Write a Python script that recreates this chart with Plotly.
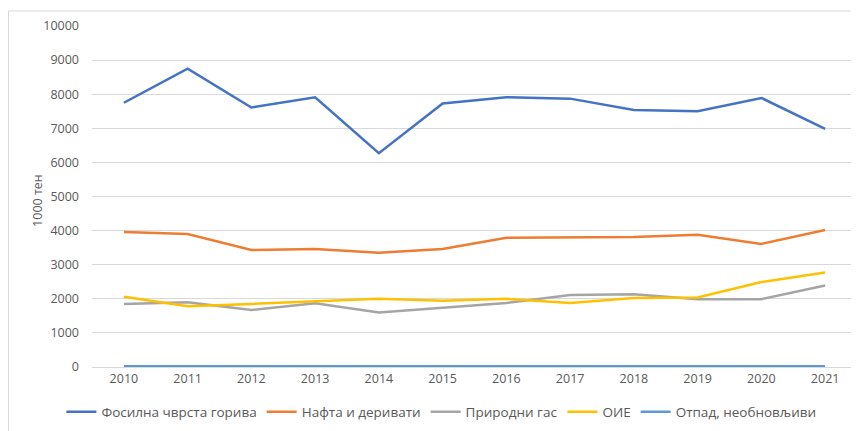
import plotly.graph_objects as go

years = [2010, 2011, 2012, 2013, 2014, 2015, 2016, 2017, 2018, 2019, 2020, 2021]

fosilna = [7750, 8750, 7610, 7910, 6270, 7730, 7910, 7870, 7540, 7500, 7890, 6980]
nafta = [3960, 3900, 3430, 3460, 3350, 3460, 3790, 3790, 3810, 3880, 3610, 4020]
gas = [1850, 1900, 1670, 1870, 1600, 1740, 1880, 2110, 2130, 1990, 1990, 2390]
oie = [2060, 1780, 1850, 1930, 2000, 1940, 2000, 1880, 2020, 2040, 2490, 2770]
otpad = [20, 20, 10, 10, 20, 20, 20, 20, 20, 20, 20, 20]

series = [
    ("Фосилна чврста горива", fosilna, "#4472C4"),
    ("Нафта и деривати", nafta, "#ED7D31"),
    ("Природни гас", gas, "#A5A5A5"),
    ("ОИЕ", oie, "#FFC000"),
    ("Отпад, необновљиви", otpad, "#5B9BD5"),
]

fig = go.Figure()
for name, vals, color in series:
    fig.add_trace(go.Scatter(
        x=years, y=vals, name=name, mode="lines",
        line=dict(color=color, width=2.5),
    ))

fig.update_layout(
    width=859, height=431,
    margin=dict(l=84, r=10, t=18, b=72),
    paper_bgcolor="white", plot_bgcolor="white",
    font=dict(family="Open Sans", size=12.5, color="#595959"),
    showlegend=True,
    legend=dict(
        orientation="h", xref="paper", yref="paper",
        x=-0.04, y=-0.132, xanchor="left", yanchor="middle",
        font=dict(size=13.5, color="#595959"),
        itemwidth=30, tracegroupgap=0,
    ),
    xaxis=dict(
        range=[2009.5, 2021.5], tickmode="array", tickvals=years,
        showgrid=False, showline=True, linecolor="#D9D9D9", linewidth=1,
        ticks="", zeroline=False,
    ),
    yaxis=dict(
        range=[0, 10000], dtick=1000, tickformat="d", showgrid=True,
        gridcolor="#D9D9D9", gridwidth=1, zeroline=False, ticks="",
        ticklabelstandoff=12,
    ),
    annotations=[dict(
        text="1000 тен", textangle=-90, xref="paper", yref="paper",
        x=-0.0706, y=0.49, xanchor="center", yanchor="middle",
        showarrow=False, font=dict(size=12.5, color="#595959"),
    )],
    shapes=[
        dict(type="line", xref="paper", yref="paper", x0=-0.1092, x1=1.02,
             y0=1.044, y1=1.044, line=dict(color="#D9D9D9", width=1)),
        dict(type="line", xref="paper", yref="paper", x0=-0.1092, x1=-0.1092,
             y0=1.044, y1=-0.25, line=dict(color="#D9D9D9", width=1)),
    ],
)

fig.write_html("out.html")
